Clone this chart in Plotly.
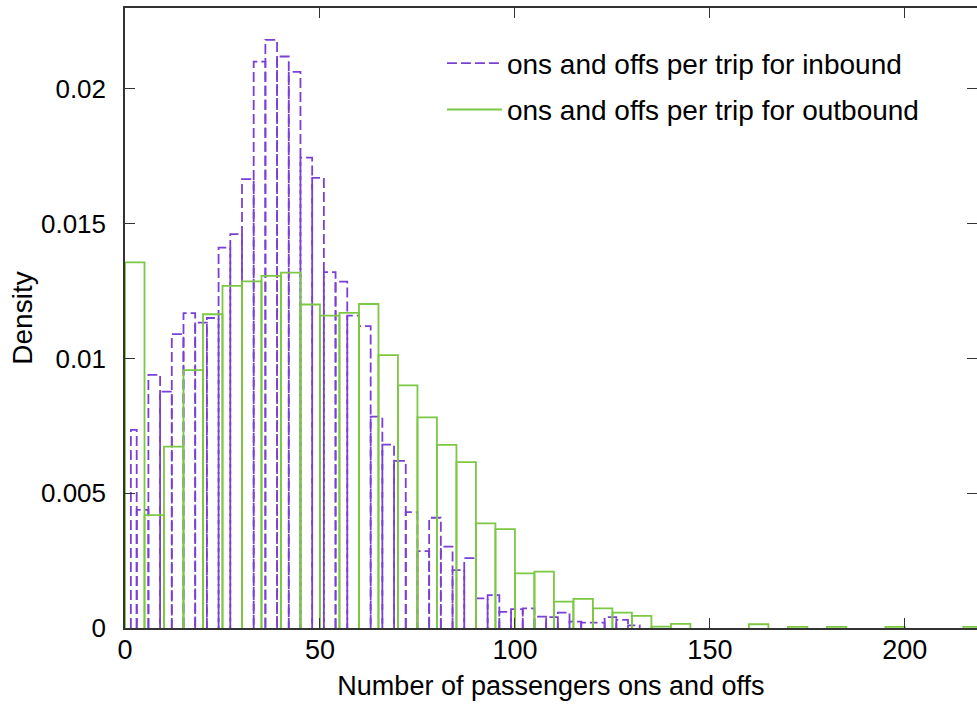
import plotly.graph_objects as go

# ---- data ----
# inbound: bin edges (first bin partial), width 3
inbound_edges = [1.5] + [3 * k for k in range(1, 45)]
inbound_density = [0.00735, 0.00438, 0.00939, 0.00877, 0.0109, 0.01168, 0.01133, 0.0115,
                   0.01411, 0.01461, 0.01665, 0.02101, 0.02182, 0.0212, 0.02063, 0.01745,
                   0.0167, 0.0132, 0.01285, 0.01159, 0.0112, 0.00784, 0.0068, 0.0062,
                   0.0043, 0.00285, 0.00409, 0.00302, 0.00215, 0.00259, 0.0011, 0.00122,
                   0.0006, 0.0007, 0.00073, 0.00042, 0.0004, 0.00057, 0.00024, 0.0002,
                   0.0002, 0.0004, 0.0003, 0.0001]
# outbound: bin edges width 5 from 0
outbound_edges = [5 * k for k in range(0, 45)]
outbound_density = [0.01356, 0.00419, 0.00673, 0.00957, 0.01164, 0.01269, 0.01286, 0.01306,
                    0.01318, 0.012, 0.01159, 0.01169, 0.01202, 0.01012, 0.009, 0.00781,
                    0.00679, 0.00615, 0.00388, 0.00367, 0.00203, 0.00209, 0.00098, 0.00108,
                    0.00073, 0.00057, 0.00045, 0.00005, 0.00015, 0, 0, 0, 0.00014, 0,
                    0.00004, 0, 0.00004, 0, 0, 0.00004, 0, 0, 0, 0.00004]

x_ticks = [0, 50, 100, 150, 200]
y_ticks = [0, 0.005, 0.01, 0.015, 0.02]
y_tick_labels = ["0", "0.005", "0.01", "0.015", "0.02"]

names = ["ons and offs per trip for inbound", "ons and offs per trip for outbound"]


def outline(edges, heights):
    xs, ys = [], []
    for i, h in enumerate(heights):
        if h <= 0:
            continue
        x0, x1 = edges[i], edges[i + 1]
        xs += [x0, x0, x1, x1, None]
        ys += [0, h, h, 0, None]
    return xs, ys


PURPLE = "#7b3fd8"
GREEN = "#7dc843"
FONT = "Liberation Sans, Arial, sans-serif"

fig = go.Figure()
xi, yi = outline(inbound_edges, inbound_density)
fig.add_trace(go.Scatter(x=xi, y=yi, mode="lines", name=names[0], legendgroup="a",
                         line=dict(color=PURPLE, width=1.8, dash="10px,4px"),
                         connectgaps=False, hoverinfo="skip"))
xo, yo = outline(outbound_edges, outbound_density)
fig.add_trace(go.Scatter(x=xo, y=yo, mode="lines", name=names[1], legendgroup="b",
                         line=dict(color=GREEN, width=1.8),
                         connectgaps=False, hoverinfo="skip"))

fig.update_layout(
    width=977, height=705,
    margin=dict(l=125, r=0, t=8, b=77, autoexpand=False),
    paper_bgcolor="white", plot_bgcolor="white",
    font=dict(family=FONT, size=26, color="black"),
    showlegend=True,
    legend=dict(x=0.372, y=0.951, xanchor="left", yanchor="top",
                bgcolor="rgba(0,0,0,0)", font=dict(size=28), itemwidth=55,
                traceorder="grouped", tracegroupgap=7),
    xaxis=dict(range=[0, 218.5], tickvals=x_ticks, ticks="inside", ticklen=10,
               tickcolor="#333", showline=True, linecolor="#333", linewidth=1.5,
               mirror="ticks", showgrid=False, zeroline=False, automargin=False,
               tickfont=dict(size=27), ticklabelstandoff=-3,
               title=dict(text="Number of passengers ons and offs", font=dict(size=27),
                          standoff=12)),
    yaxis=dict(range=[0, 0.023], tickvals=y_ticks, ticktext=y_tick_labels,
               ticks="inside", ticklen=10, tickcolor="#333", showline=True,
               linecolor="#333", linewidth=1.5, mirror="ticks", showgrid=False,
               zeroline=False, automargin=False, tickfont=dict(size=26),
               ticklabelstandoff=12,
               title=dict(text="Density", font=dict(size=28), standoff=0)),
)

fig.write_html("out.html", config={"displayModeBar": False},
               post_script="document.body.style.margin='0';document.body.style.overflow='hidden';")
